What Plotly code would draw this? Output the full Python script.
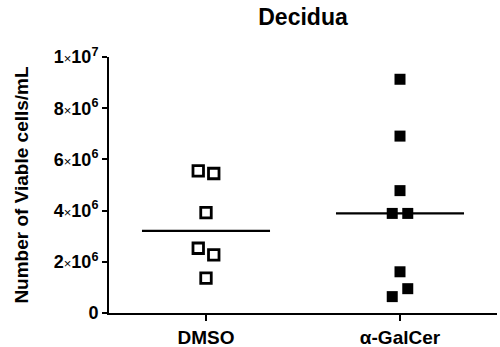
import plotly.graph_objects as go

categories = ["DMSO", "α-GalCer"]
dmso_values = [5.55e6, 5.45e6, 3.92e6, 2.53e6, 2.27e6, 1.36e6]
dmso_offsets = [-0.04, 0.04, 0.0, -0.04, 0.04, 0.0]
galcer_values = [9.13e6, 6.91e6, 4.78e6, 3.89e6, 3.89e6, 1.61e6, 0.95e6, 0.64e6]
galcer_offsets = [0.0, 0.0, 0.0, -0.04, 0.04, 0.0, 0.04, -0.04]
median_values = [3.21e6, 3.89e6]
y_tickvals = [0, 2e6, 4e6, 6e6, 8e6, 1e7]
y_ticktext = ["<b>0</b>",
              "<b>2</b><span style='font-size:13px'>×</span><b>10<sup>6</sup></b>",
              "<b>4</b><span style='font-size:13px'>×</span><b>10<sup>6</sup></b>",
              "<b>6</b><span style='font-size:13px'>×</span><b>10<sup>6</sup></b>",
              "<b>8</b><span style='font-size:13px'>×</span><b>10<sup>6</sup></b>",
              "<b>1</b><span style='font-size:13px'>×</span><b>10<sup>7</sup></b>"]

fig = go.Figure()
fig.add_trace(go.Scatter(
    x=[0 + o for o in dmso_offsets], y=dmso_values, mode="markers",
    marker=dict(symbol="square-open", size=10.5, color="black", line=dict(width=2.8, color="black")),
    showlegend=False))
fig.add_trace(go.Scatter(
    x=[1 + o for o in galcer_offsets], y=galcer_values, mode="markers",
    marker=dict(symbol="square", size=11, color="black", line=dict(width=0)),
    showlegend=False))
for i, m in enumerate(median_values):
    fig.add_trace(go.Scatter(x=[i - 0.33, i + 0.33], y=[m, m], mode="lines",
                             line=dict(color="black", width=2.2), showlegend=False))

fig.update_layout(
    width=500, height=347,
    margin=dict(l=109, r=3, t=57, b=34),
    paper_bgcolor="white", plot_bgcolor="white",
    font=dict(family="Liberation Sans, Arial, sans-serif", color="black", size=19),
    title=dict(text="<b>Decidua</b>", xref="paper", x=0.5, xanchor="center",
               yref="container", y=0.952, yanchor="middle", font=dict(size=23)),
    xaxis=dict(range=[-0.5, 1.5], tickvals=[0, 1],
               ticktext=["<b>" + c + "</b>" for c in categories],
               showgrid=False, zeroline=False, showline=True, linecolor="black", linewidth=2,
               ticks="outside", ticklen=6, tickwidth=2, tickcolor="black",
               tickfont=dict(size=19), automargin=False),
    yaxis=dict(range=[0, 1e7], tickvals=y_tickvals, ticktext=y_ticktext,
               showgrid=False, zeroline=False, showline=True, linecolor="black", linewidth=2,
               ticks="outside", ticklen=5, tickwidth=2, tickcolor="black",
               tickfont=dict(size=18), automargin=False,
               title=dict(text="<b>Number of Viable cells/mL</b>", font=dict(size=19), standoff=20)),
)
fig.write_html("out.html", config={"displayModeBar": False},
               post_script="document.body.style.margin='0';")
